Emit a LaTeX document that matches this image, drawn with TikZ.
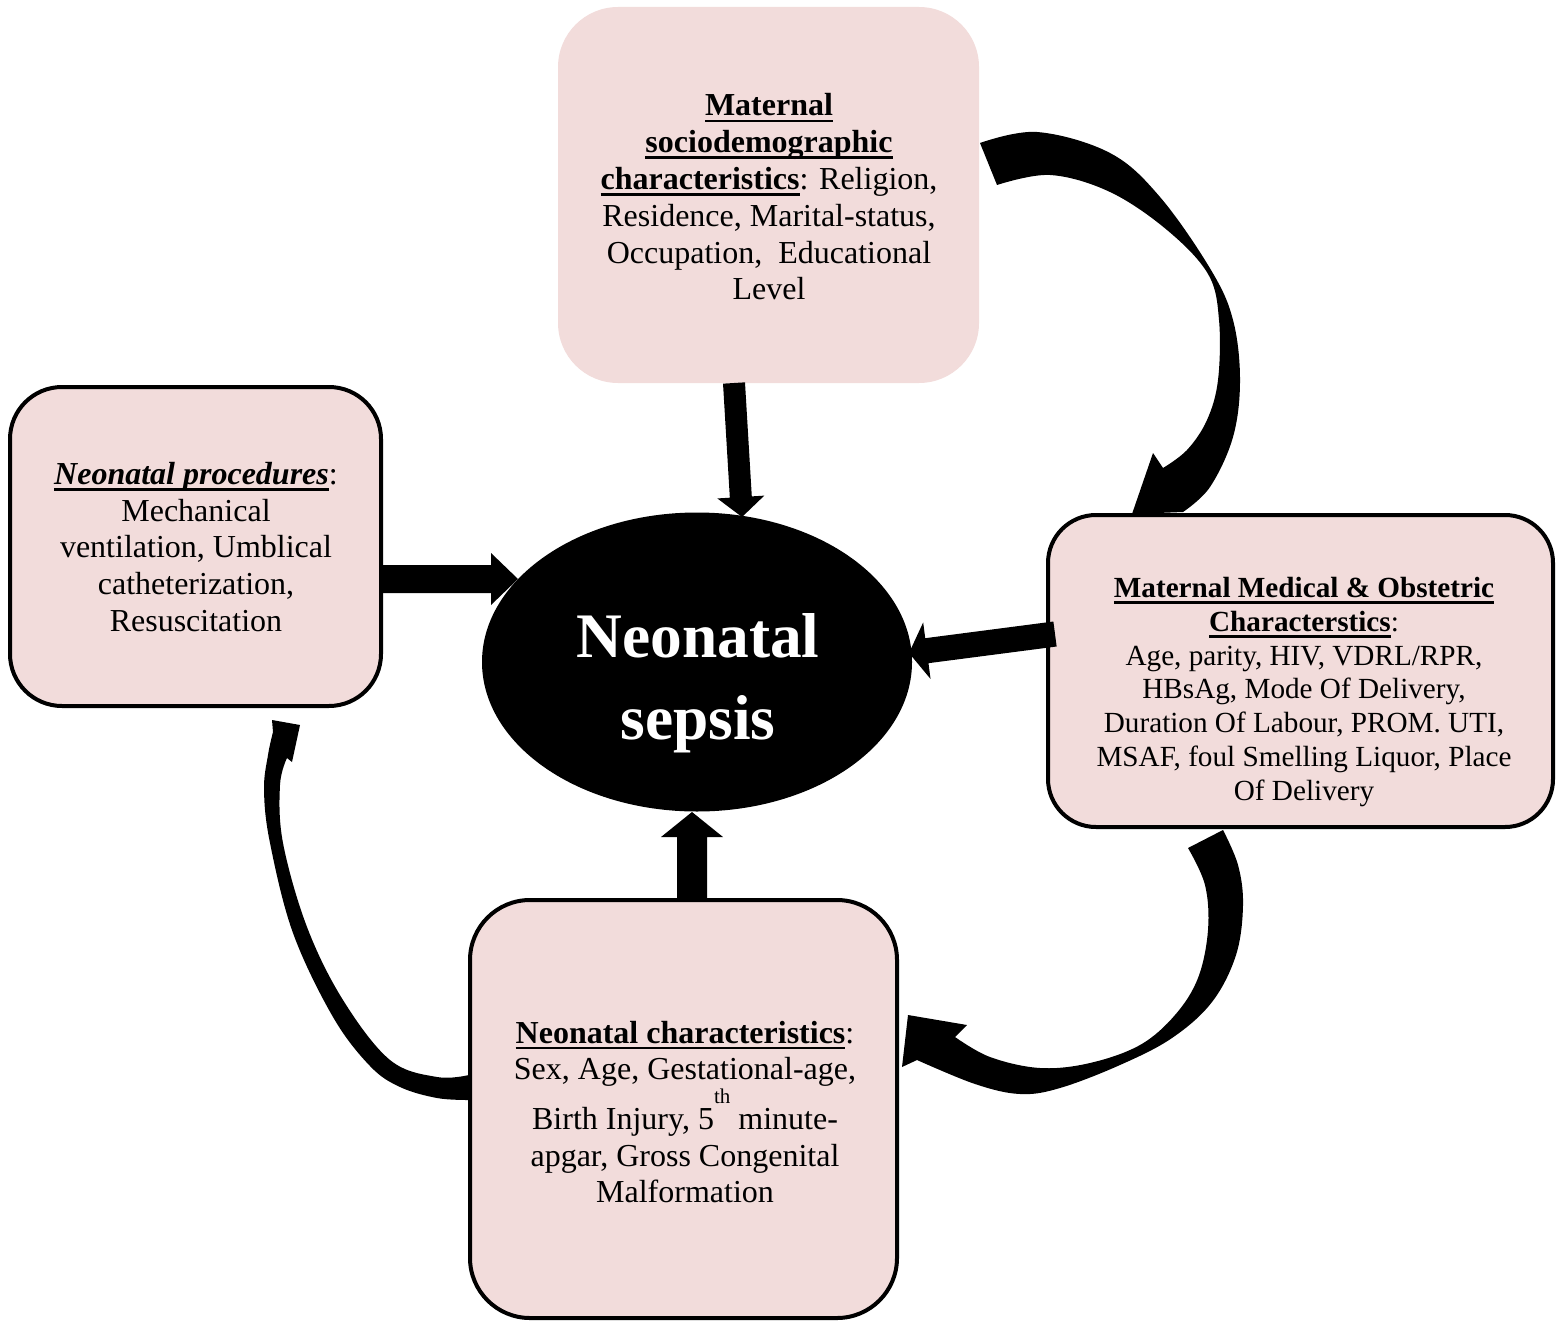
\documentclass[tikz,border=0pt]{standalone}
\usepackage{fontspec}
\setmainfont{Liberation Serif}
\usetikzlibrary{shapes.geometric,calc}
\definecolor{boxpink}{HTML}{F2DCDB}
\newcommand\ulword[1]{\setbox0\hbox{#1}\rlap{\rule[-3.1pt]{\wd0}{1.3pt}}\box0}
% start, end, half shaft width, half head width, head length
\newcommand\thickarrow[5]{%
  \coordinate (hb) at ($(#2)!#5!(#1)$);
  \fill ($(#1)!#3!90:(#2)$) -- ($(hb)!#3!90:(#2)$) -- ($(hb)!#4!90:(#2)$) -- (#2)
    -- ($(hb)!#4!-90:(#2)$) -- ($(hb)!#3!-90:(#2)$) -- ($(#1)!#3!-90:(#2)$) -- cycle;}
\begin{document}
\begin{tikzpicture}[x={(0.5pt,0)},y={(0,-0.5pt)},
  roundbox/.style={fill=boxpink, rounded corners=#1, inner sep=0pt},
  framed/.style={draw=black, line width=2pt},
  txt/.style={align=center, inner sep=0pt, font=\fontsize{16}{18.4}\selectfont},
  smalltxt/.style={align=center, inner sep=0pt, font=\fontsize{14.6}{16.9}\selectfont}]
\useasboundingbox (0,0) rectangle (1556,1321);

% boxes
\node[roundbox=30pt, minimum width=210.5pt, minimum height=188pt] (socio) at (768.5,195) {};
\node[roundbox=26pt, framed, minimum width=185.5pt, minimum height=159.5pt] (proc) at (195.5,546.5) {};
\node[roundbox=24pt, framed, minimum width=252.5pt, minimum height=156pt] (obst) at (1300.5,671) {};
\node[roundbox=30pt, framed, minimum width=213.5pt, minimum height=209pt] (neo) at (683.5,1109) {};
\node[ellipse, fill=black, inner sep=0pt, minimum width=215pt, minimum height=149.5pt] (sepsis) at (697,662) {};

% texts
\node[txt] (sociotext) at (769,197) {\ulword{\textbf{Maternal}}\\
  \ulword{\textbf{sociodemographic}}\\
  \ulword{\textbf{characteristics}}: Religion,\\
  Residence, Marital-status,\\
  Occupation,\ \ Educational\\
  Level};
\node[txt] (proctext) at (196,547) {\ulword{\textbf{\textit{Neonatal procedures}}}:\\
  Mechanical\\ ventilation, Umblical\\ catheterization,\\ Resuscitation};
\node[smalltxt] (obsttext) at (1304,692) {\ulword{\textbf{Maternal Medical \& Obstetric}}\\
  \ulword{\textbf{Characterstics}}:\\
  Age, parity, HIV, VDRL/RPR,\\
  HBsAg, Mode Of Delivery,\\
  Duration Of Labour, PROM. UTI,\\
  MSAF, foul Smelling Liquor, Place\\
  Of Delivery};
\node[txt] (neotext) at (685,1112) {\ulword{\textbf{Neonatal characteristics}}:\\
  Sex, Age, Gestational-age,\\
  Birth Injury, 5\raisebox{13pt}{\fontsize{10.5}{10.5}\selectfont th} minute-\\
  apgar, Gross Congenital\\
  Malformation};
\node[align=center, inner sep=0pt, text=white, font=\fontsize{31.7}{41}\selectfont\bfseries] (sepsistext) at (698,683) {Neonatal\\sepsis};

% straight arrows
\coordinate (a1s) at (734,383); \coordinate (a1e) at (742,517);
\coordinate (a2s) at (382,579); \coordinate (a2e) at (518,579);
\coordinate (a3s) at (1055,634); \coordinate (a3e) at (909,653);
\coordinate (a4s) at (692,899); \coordinate (a4e) at (692,812);
\thickarrow{a1s}{a1e}{5.5pt}{11.75pt}{10pt}
\thickarrow{a2s}{a2e}{7pt}{13pt}{13.5pt}
\thickarrow{a3s}{a3e}{6.3pt}{14.25pt}{9pt}
\thickarrow{a4s}{a4e}{7.5pt}{15.5pt}{12.5pt}

% curved arrow: sociodemographic -> obstetric
\fill plot[smooth, tension=0.6] coordinates {(980,143) (1037,132) (1110,153) (1160,197) (1211,270) (1233,320) (1240,380) (1233,437) (1210,487) (1183,512)}
  -- (1132,514) -- (1153,453) -- (1163,468)
  -- plot[smooth, tension=0.6] coordinates {(1163,468) (1187,450) (1207,420) (1218,380) (1219,320) (1208,274) (1167,230) (1110,192) (1050,175) (997,185)} -- cycle;

% curved arrow: obstetric -> neonatal characteristics
\fill (1188,848) -- plot[smooth, tension=0.6] coordinates {(1223,830) (1238,865) (1243,905) (1236,955) (1212,1002) (1172,1038) (1120,1065) (1060,1088) (1020,1094) (975,1084) (917,1060)}
  -- (902,1067) -- (908,1015) -- (967,1025) -- (955,1037)
  -- plot[smooth, tension=0.6] coordinates {(955,1037) (990,1057) (1040,1068) (1090,1063) (1140,1045) (1175,1015) (1198,978) (1208,930) (1205,885) (1188,848)} -- cycle;

% curved arrow: neonatal characteristics -> procedures
\fill plot[smooth, tension=0.6] coordinates {(469,1100) (437,1098) (400,1087) (370,1066) (333,1017) (293,933) (270,843) (264,790) (268,755) (273,732)}
  -- (272,720) -- (300,725) -- (292,762) -- (287,758)
  -- plot[smooth, tension=0.6] coordinates {(287,758) (280,785) (283,843) (307,927) (343,1000) (390,1060) (437,1077) (469,1075)} -- cycle;
\end{tikzpicture}
\end{document}
